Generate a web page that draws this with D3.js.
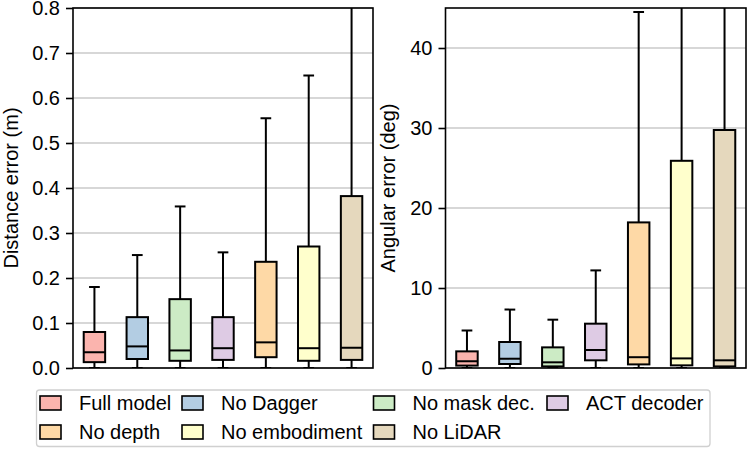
<!DOCTYPE html>
<html>
<head>
<meta charset="utf-8">
<script src="https://cdn.jsdelivr.net/npm/d3@7"></script>
<style>
  body { margin: 0; background: #fff; }
  svg { display: block; font-family: "Liberation Sans", Arial, sans-serif; }
</style>
</head>
<body>
<svg id="chart"></svg>
<script>
const width = 747;
const height = 449;

const models = ["Full model", "No Dagger", "No mask dec.", "ACT decoder", "No depth", "No embodiment", "No LiDAR"];
const colors = ["#fbb4ae", "#b3cde3", "#ccebc5", "#decbe4", "#fed9a6", "#ffffcc", "#e5d8bd"];

// distance error (m): whisker low, Q1, median, Q3, whisker high
const distLow = [0, 0, 0, 0, 0, 0, 0];
const distQ1 = [0.013, 0.020, 0.016, 0.018, 0.024, 0.016, 0.018];
const distMed = [0.035, 0.048, 0.039, 0.044, 0.057, 0.044, 0.045];
const distQ3 = [0.080, 0.113, 0.153, 0.113, 0.236, 0.270, 0.382];
const distHigh = [0.180, 0.251, 0.359, 0.257, 0.555, 0.650, 0.950];
const distTicks = [0, 0.1, 0.2, 0.3, 0.4, 0.5, 0.6, 0.7, 0.8];

// angular error (deg)
const angLow = [0, 0, 0, 0, 0, 0, 0];
const angQ1 = [0.30, 0.50, 0.20, 0.96, 0.45, 0.33, 0.20];
const angMed = [0.83, 1.16, 0.71, 2.25, 1.35, 1.20, 0.96];
const angQ3 = [2.08, 3.25, 2.58, 5.54, 18.2, 25.9, 29.75];
const angHigh = [4.7, 7.3, 6.04, 12.2, 44.5, 60, 70];
const angTicks = [0, 10, 20, 30, 40];

const svg = d3.select("#chart").attr("width", width).attr("height", height);

let drawPanel = (opts) => {
  const { x0, x1, y0, y1, yMax, low, q1, med, q3, high, ticks, fmt, label, labelX, id } = opts;

  const x = d3.scaleLinear().domain([0.5, models.length + 0.5]).range([x0, x1]);
  const y = d3.scaleLinear().domain([0, yMax]).range([y1, y0]);
  const boxW = x(1.5) - x(1); // box width 0.5
  const capW = boxW / 2;

  const g = svg.append("g");

  svg.append("clipPath").attr("id", id)
    .append("rect").attr("x", x0).attr("y", y0).attr("width", x1 - x0).attr("height", y1 - y0);

  // gridlines
  g.append("g").selectAll("line").data(ticks).enter().append("line")
    .attr("x1", x0).attr("x2", x1)
    .attr("y1", (d) => y(d)).attr("y2", (d) => y(d))
    .attr("stroke", "#b0b0b0").attr("stroke-width", 1.2);

  const rows = models.map((m, i) => ({ i: i, low: low[i], q1: q1[i], med: med[i], q3: q3[i], high: high[i] }));
  const boxes = g.append("g").attr("clip-path", "url(#" + id + ")")
    .selectAll("g").data(rows).enter().append("g");

  const ln = (sel) => sel.attr("stroke", "#000").attr("stroke-width", 2);

  // whiskers
  boxes.append("line").call(ln)
    .attr("x1", (d) => x(d.i + 1)).attr("x2", (d) => x(d.i + 1))
    .attr("y1", (d) => y(d.q3)).attr("y2", (d) => y(d.high));
  boxes.append("line").call(ln)
    .attr("x1", (d) => x(d.i + 1)).attr("x2", (d) => x(d.i + 1))
    .attr("y1", (d) => y(d.q1)).attr("y2", (d) => y(d.low));
  // caps
  boxes.append("line").call(ln)
    .attr("x1", (d) => x(d.i + 1) - capW / 2).attr("x2", (d) => x(d.i + 1) + capW / 2)
    .attr("y1", (d) => y(d.high)).attr("y2", (d) => y(d.high));
  boxes.append("line").call(ln)
    .attr("x1", (d) => x(d.i + 1) - capW / 2).attr("x2", (d) => x(d.i + 1) + capW / 2)
    .attr("y1", (d) => y(d.low)).attr("y2", (d) => y(d.low));
  // box
  boxes.append("rect")
    .attr("x", (d) => x(d.i + 1) - boxW / 2)
    .attr("width", boxW)
    .attr("y", (d) => y(d.q3))
    .attr("height", (d) => y(d.q1) - y(d.q3))
    .attr("fill", (d) => colors[d.i])
    .attr("stroke", "#000").attr("stroke-width", 2);
  // median
  boxes.append("line").call(ln)
    .attr("x1", (d) => x(d.i + 1) - boxW / 2).attr("x2", (d) => x(d.i + 1) + boxW / 2)
    .attr("y1", (d) => y(d.med)).attr("y2", (d) => y(d.med));

  // frame
  g.append("rect").attr("x", x0).attr("y", y0).attr("width", x1 - x0).attr("height", y1 - y0)
    .attr("fill", "none").attr("stroke", "#000").attr("stroke-width", 1.6);

  const yAxis = d3.axisLeft(y).tickValues(ticks).tickFormat(fmt).tickSize(7).tickPadding(6);
  const ax = g.append("g").attr("transform", "translate(" + x0 + ",0)").call(yAxis);
  ax.select(".domain").remove();
  ax.selectAll(".tick line").attr("stroke", "#000").attr("stroke-width", 1.6);
  ax.selectAll(".tick text").attr("font-size", 20).attr("fill", "#000")
    .attr("font-family", "'Liberation Sans', Arial, sans-serif");

  g.append("text")
    .attr("transform", "translate(" + labelX + "," + (y0 + y1) / 2 + ") rotate(-90)")
    .attr("text-anchor", "middle")
    .attr("font-size", 20)
    .text(label);
};

drawPanel({
  id: "clipL", x0: 73, x1: 373, y0: 8, y1: 368, yMax: 0.8,
  low: distLow, q1: distQ1, med: distMed, q3: distQ3, high: distHigh,
  ticks: distTicks, fmt: d3.format(".1f"), label: "Distance error (m)", labelX: 17.5
});

drawPanel({
  id: "clipR", x0: 445.5, x1: 746, y0: 8, y1: 368, yMax: 45,
  low: angLow, q1: angQ1, med: angMed, q3: angQ3, high: angHigh,
  ticks: angTicks, fmt: d3.format("d"), label: "Angular error (deg)", labelX: 394.5
});

// legend
const legendColX = [40, 182, 373.5, 547];
const legendRowY = [396, 425];
const legend = svg.append("g");
legend.append("rect")
  .attr("x", 36.5).attr("y", 390).attr("width", 673.5).attr("height", 56.5)
  .attr("rx", 3).attr("fill", "#fff").attr("stroke", "#d0d0d0").attr("stroke-width", 1.3);

const items = legend.selectAll("g.item").data(models).enter().append("g")
  .attr("transform", (d, i) => "translate(" + legendColX[i % 4] + "," + legendRowY[Math.floor(i / 4)] + ")");
items.append("rect")
  .attr("width", 21).attr("height", 14)
  .attr("fill", (d, i) => colors[i])
  .attr("stroke", "#000").attr("stroke-width", 1.6);
items.append("text")
  .attr("x", 39).attr("y", 14)
  .attr("font-size", 20)
  .text((d) => d);
</script>
</body>
</html>
